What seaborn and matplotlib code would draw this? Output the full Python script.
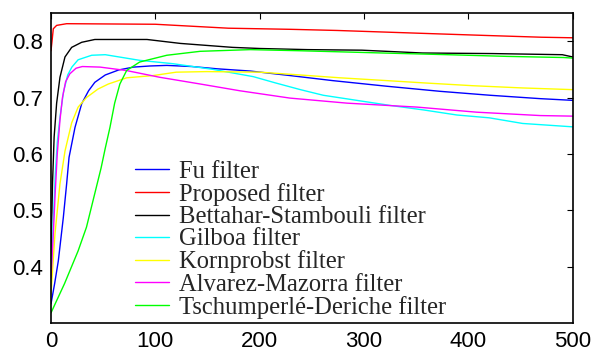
import numpy as np
import pandas as pd
import matplotlib
matplotlib.use("Agg")
import matplotlib.pyplot as plt
import seaborn as sns

labels = ["Fu filter", "Proposed filter", "Bettahar-Stambouli filter", "Gilboa filter",
          "Kornprobst filter", "Alvarez-Mazorra filter", "Tschumperlé-Deriche filter"]
colors = ["#0000ff", "#ff0000", "#000000", "#00ffff", "#ffff00", "#ff00ff", "#00ff00"]

fu_x = [0, 3.5, 7, 11.8, 15, 17.3, 23, 29.4, 36, 42, 52, 65, 79, 95, 111, 135, 159, 191, 229, 270, 322, 373, 421, 469, 500]
fu_y = [0.334, 0.37, 0.41, 0.487, 0.547, 0.594, 0.647, 0.689, 0.712, 0.727, 0.740, 0.749, 0.754, 0.756, 0.757, 0.755, 0.751, 0.747, 0.739, 0.730, 0.720, 0.711, 0.704, 0.698, 0.695]

prop_x = [0, 1, 2.2, 5.4, 15, 100, 170, 230, 274, 322, 370, 419, 470, 500]
prop_y = [0.783, 0.80, 0.822, 0.828, 0.831, 0.830, 0.823, 0.821, 0.819, 0.816, 0.813, 0.810, 0.807, 0.806]

bet_x = [0, 1.5, 3, 5.4, 8.6, 13.4, 19.8, 29.4, 42, 92, 124, 174, 200, 246, 298, 356, 423, 490, 500]
bet_y = [0.42, 0.55, 0.63, 0.69, 0.736, 0.772, 0.789, 0.798, 0.803, 0.803, 0.796, 0.789, 0.787, 0.785, 0.784, 0.779, 0.778, 0.776, 0.772]

gil_x = [0, 2, 4, 6, 8.6, 12, 16, 20, 26, 39, 52, 85, 117, 155, 194, 215, 239, 261, 293, 325, 357, 389, 420, 452, 500]
gil_y = [0.37, 0.47, 0.56, 0.62, 0.665, 0.71, 0.74, 0.754, 0.767, 0.775, 0.776, 0.766, 0.760, 0.750, 0.737, 0.726, 0.714, 0.704, 0.695, 0.686, 0.678, 0.669, 0.664, 0.654, 0.648]

kor_x = [0, 3.8, 8.6, 13.4, 19.8, 26, 34, 45, 55, 72.5, 98, 120, 149, 200, 239, 277, 322, 357, 404, 452, 500]
kor_y = [0.351, 0.458, 0.547, 0.605, 0.655, 0.683, 0.700, 0.715, 0.724, 0.735, 0.739, 0.745, 0.746, 0.745, 0.740, 0.735, 0.730, 0.726, 0.721, 0.717, 0.714]

alv_x = [0, 2, 4, 6, 8.6, 11, 14, 18, 24, 30, 47, 72, 104, 143, 181, 229, 284, 351, 408, 469, 500]
alv_y = [0.38, 0.45, 0.53, 0.60, 0.66, 0.70, 0.728, 0.742, 0.752, 0.755, 0.754, 0.748, 0.736, 0.724, 0.712, 0.699, 0.690, 0.683, 0.674, 0.668, 0.667]

tsc_x = [0, 13, 26, 34, 42, 48, 52, 56.5, 61, 66, 72.5, 85, 111, 143, 191, 239, 318, 380, 437, 491, 500]
tsc_y = [0.318, 0.37, 0.428, 0.47, 0.53, 0.575, 0.61, 0.647, 0.69, 0.724, 0.748, 0.763, 0.775, 0.782, 0.785, 0.783, 0.779, 0.776, 0.773, 0.771, 0.770]

x_ticks = [0, 100, 200, 300, 400, 500]
y_ticks = [0.4, 0.5, 0.6, 0.7, 0.8]

series = [(fu_x, fu_y), (prop_x, prop_y), (bet_x, bet_y), (gil_x, gil_y),
          (kor_x, kor_y), (alv_x, alv_y), (tsc_x, tsc_y)]
frames = []
for lab, (xs, ys) in zip(labels, series):
    frames.append(pd.DataFrame({"x": xs, "y": ys, "filter": lab}))
df = pd.concat(frames, ignore_index=True)

sns.set_style("white")
plt.rcParams["font.family"] = ["Liberation Sans", "DejaVu Sans"]

fig = plt.figure(figsize=(5.93, 3.51), dpi=100)
ax = fig.add_axes([0.086, 0.0798, 0.8798, 0.8832])

sns.lineplot(data=df, x="x", y="y", hue="filter", hue_order=labels,
             palette=dict(zip(labels, colors)), estimator=None, sort=False,
             linewidth=1.0, ax=ax)

ax.set_xlim(0, 500)
ax.set_ylim(0.3, 0.85)
ax.set_xticks(x_ticks)
ax.set_xticklabels([str(t) for t in x_ticks])
ax.set_yticks(y_ticks)
ax.set_yticklabels([f"{t:.1f}" for t in y_ticks])
ax.set_xlabel("")
ax.set_ylabel("")
ax.tick_params(direction="in", top=True, right=True, length=4, width=0.8,
               labelsize=16, colors="black", pad=6)
for s in ax.spines.values():
    s.set_visible(True)
    s.set_color("black")
    s.set_linewidth(1.2)

sns.move_legend(ax, "lower left", bbox_to_anchor=(0.161, 0.014), frameon=False,
                title=None, prop={"family": "Liberation Serif", "size": 17.7},
                labelspacing=0.0, handlelength=1.4, handletextpad=0.38,
                borderpad=0.0, borderaxespad=0.0)

fig.savefig("out.png", dpi=100)
